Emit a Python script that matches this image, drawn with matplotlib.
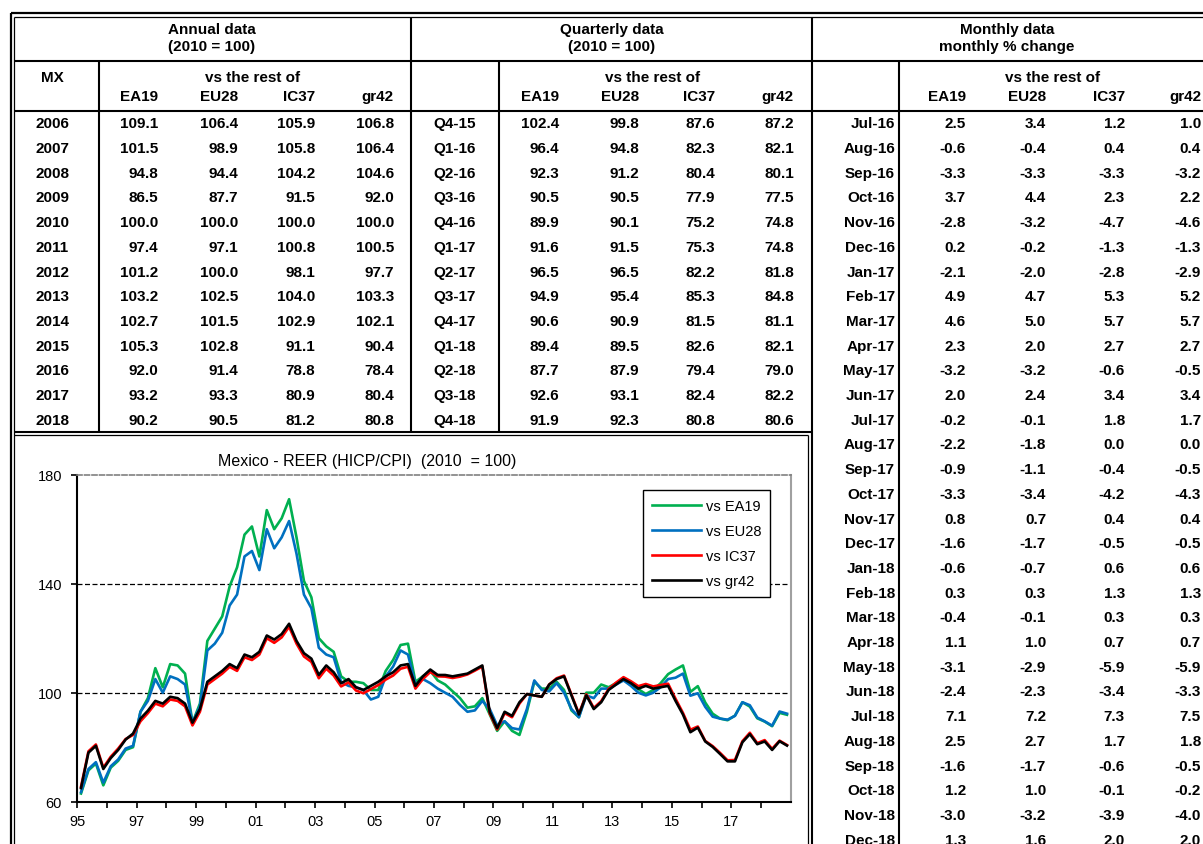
import matplotlib
matplotlib.use("Agg")
import matplotlib.pyplot as plt
import numpy as np

plt.rcParams["font.family"] = ["Liberation Sans", "DejaVu Sans"]

# ---------------- table data ----------------
annual_years = ["2006", "2007", "2008", "2009", "2010", "2011", "2012",
                "2013", "2014", "2015", "2016", "2017", "2018"]
a_ea19 = [109.1, 101.5, 94.8, 86.5, 100.0, 97.4, 101.2, 103.2, 102.7, 105.3, 92.0, 93.2, 90.2]
a_eu28 = [106.4, 98.9, 94.4, 87.7, 100.0, 97.1, 100.0, 102.5, 101.5, 102.8, 91.4, 93.3, 90.5]
a_ic37 = [105.9, 105.8, 104.2, 91.5, 100.0, 100.8, 98.1, 104.0, 102.9, 91.1, 78.8, 80.9, 81.2]
a_gr42 = [106.8, 106.4, 104.6, 92.0, 100.0, 100.5, 97.7, 103.3, 102.1, 90.4, 78.4, 80.4, 80.8]

quarters = ["Q4-15", "Q1-16", "Q2-16", "Q3-16", "Q4-16", "Q1-17", "Q2-17",
            "Q3-17", "Q4-17", "Q1-18", "Q2-18", "Q3-18", "Q4-18"]
q_ea19 = [102.4, 96.4, 92.3, 90.5, 89.9, 91.6, 96.5, 94.9, 90.6, 89.4, 87.7, 92.6, 91.9]
q_eu28 = [99.8, 94.8, 91.2, 90.5, 90.1, 91.5, 96.5, 95.4, 90.9, 89.5, 87.9, 93.1, 92.3]
q_ic37 = [87.6, 82.3, 80.4, 77.9, 75.2, 75.3, 82.2, 85.3, 81.5, 82.6, 79.4, 82.4, 80.8]
q_gr42 = [87.2, 82.1, 80.1, 77.5, 74.8, 74.8, 81.8, 84.8, 81.1, 82.1, 79.0, 82.2, 80.6]

months = ["Jul-16", "Aug-16", "Sep-16", "Oct-16", "Nov-16", "Dec-16",
          "Jan-17", "Feb-17", "Mar-17", "Apr-17", "May-17", "Jun-17",
          "Jul-17", "Aug-17", "Sep-17", "Oct-17", "Nov-17", "Dec-17",
          "Jan-18", "Feb-18", "Mar-18", "Apr-18", "May-18", "Jun-18",
          "Jul-18", "Aug-18", "Sep-18", "Oct-18", "Nov-18", "Dec-18"]
m_ea19 = [2.5, -0.6, -3.3, 3.7, -2.8, 0.2, -2.1, 4.9, 4.6, 2.3, -3.2, 2.0, -0.2, -2.2, -0.9,
          -3.3, 0.8, -1.6, -0.6, 0.3, -0.4, 1.1, -3.1, -2.4, 7.1, 2.5, -1.6, 1.2, -3.0, 1.3]
m_eu28 = [3.4, -0.4, -3.3, 4.4, -3.2, -0.2, -2.0, 4.7, 5.0, 2.0, -3.2, 2.4, -0.1, -1.8, -1.1,
          -3.4, 0.7, -1.7, -0.7, 0.3, -0.1, 1.0, -2.9, -2.3, 7.2, 2.7, -1.7, 1.0, -3.2, 1.6]
m_ic37 = [1.2, 0.4, -3.3, 2.3, -4.7, -1.3, -2.8, 5.3, 5.7, 2.7, -0.6, 3.4, 1.8, 0.0, -0.4,
          -4.2, 0.4, -0.5, 0.6, 1.3, 0.3, 0.7, -5.9, -3.4, 7.3, 1.7, -0.6, -0.1, -3.9, 2.0]
m_gr42 = [1.0, 0.4, -3.2, 2.2, -4.6, -1.3, -2.9, 5.2, 5.7, 2.7, -0.5, 3.4, 1.7, 0.0, -0.5,
          -4.3, 0.4, -0.5, 0.6, 1.3, 0.3, 0.7, -5.9, -3.3, 7.5, 1.8, -0.5, -0.2, -4.0, 2.0]

# ---------------- chart data ----------------
# quarterly REER, 1995Q1 - 2015Q3; Q4-15 onward comes from the table
early_ea19 = [63, 71.5, 74, 66, 72.5, 75, 79, 80, 93, 98, 109, 102, 110.5, 110, 107, 89,
              96, 119, 123.5, 128, 139, 146, 158, 161, 150, 167, 160, 164, 171, 157, 141, 135,
              120, 117, 115, 106, 104, 104, 103.5, 101, 101, 108, 112, 117.5, 118, 104, 106, 108,
              104.5, 103, 100.5, 98, 94.5, 95, 98, 92, 86, 89.5, 86, 84.5, 93, 104, 101.5, 101.5,
              104, 101, 93.5, 91, 100, 100, 103, 102, 103.5, 105, 103, 101.3, 99.5, 101, 103.5, 106.8,
              108.5, 110, 100.3]
early_eu28 = [63.5, 72, 74.5, 67, 73, 75.5, 79.5, 80.5, 93, 97, 105, 100, 106, 105, 103, 89,
              95, 115.5, 118, 122, 132, 136, 150, 152, 145, 160, 153, 157, 163, 151, 136, 131,
              116.5, 114, 113, 104, 102.5, 102, 101, 97.5, 98.5, 106, 109.6, 115.5, 114, 103, 105, 103.5,
              101.5, 100, 98.5, 95.5, 93, 93.5, 97, 94, 88, 89.5, 87, 86.5, 94, 104.5, 101, 100.5,
              103.5, 100, 94, 91, 99, 98, 101.5, 101.5, 103, 104.5, 102.5, 100, 99, 100, 102, 105,
              105.5, 107, 98.9]
early_ic37 = [65.5, 78.5, 81, 72.5, 76.5, 79.5, 83, 84.5, 89.5, 92.5, 96, 95, 97.5, 97, 95, 88,
              93, 103, 105, 107, 109.5, 108, 113, 112, 114, 120, 118.3, 120.3, 124.2, 118, 113.3, 111.3,
              105.3, 108.8, 106.3, 102.3, 103.8, 100.8, 99.8, 101.3, 102.8, 104.8, 106.3, 108.8,
              109.5, 101.5, 105, 107.6, 106, 105.9, 105.4, 105.9, 106.7, 108.1, 109.6, 92.4,
              86.5, 92.5, 91, 96, 99.5, 99, 98.5, 103, 105.3, 106.3, 99.3, 92.3, 99.4, 94.4, 96.9, 101.4,
              103.7, 105.7, 104.2, 102.4, 103.2, 102.3, 102.8, 103.3, 97.8, 92.6, 86.4]
early_gr42 = [65, 78, 80.5, 72, 76, 79, 82.8, 85, 90.5, 93.4, 97, 96, 98.5, 98, 96, 89,
              94, 104, 106, 108, 110.5, 109, 114, 113, 115, 121, 119.5, 121.5, 125.3, 119, 114.5, 112.5,
              106.5, 110, 107.5, 103.5, 105, 102, 101, 102.5, 104, 106, 107.5, 110,
              110.5, 102.5, 106, 108.5, 106.5, 106.5, 106, 106.5, 107, 108.5, 110, 93,
              87, 93, 91.5, 96.5, 99.5, 99, 98.5, 103, 105, 106, 99, 92, 99, 94, 96.5, 101,
              103, 105, 103.5, 101.5, 102.5, 101.5, 102, 102.5, 97, 92, 85.5]

series = [
    ("vs EA19", early_ea19 + q_ea19, "#00B050"),
    ("vs EU28", early_eu28 + q_eu28, "#0070C0"),
    ("vs IC37", early_ic37 + q_ic37, "#FF0000"),
    ("vs gr42", early_gr42 + q_gr42, "#000000"),
]

W, H = 1203, 845
fig = plt.figure(figsize=(W / 100, H / 100), dpi=100)

# ---------------- table (pixel coordinates) ----------------
tab = fig.add_axes([0, 0, 1, 1])
tab.set_xlim(0, W)
tab.set_ylim(H, 0)
tab.axis("off")

row_h = 24.7
hdr_mid = 62
hdr_bot = 112
chart_top = 432.5
lw = 1.5

def hl(y, x0, x1, w=lw):
    tab.plot([x0, x1], [y, y], color="black", lw=w, solid_capstyle="butt")

def vl(x, y0, y1, w=lw):
    tab.plot([x, x], [y0, y1], color="black", lw=w, solid_capstyle="butt")

# outer double border
hl(14, 10.7, W, 1.6)
hl(17.5, 13.5, W, 0.9)
vl(10.7, 14, H, 1.6)
vl(13.5, 17.5, H, 0.9)
hl(hdr_mid, 13.5, W)
hl(hdr_bot, 13.5, W)
vl(411, 17.5, chart_top)
vl(812, 17.5, H)
vl(98.5, hdr_mid, chart_top)
vl(499, hdr_mid, chart_top)
vl(899, hdr_mid, H)
# chart frame
hl(chart_top, 13.5, 812)
hl(chart_top + 3.5, 13.5, 808, 0.9)
vl(808, chart_top + 3.5, H, 0.9)

txt = dict(fontsize=11, fontweight="bold", va="center")

sections = [
    (212, "Annual data", "(2010 = 100)", 253),
    (612, "Quarterly data", "(2010 = 100)", 653),
    (1007, "Monthly data", "monthly % change", 1053),
]
for xc, l1, l2, xv in sections:
    tab.text(xc, 30, l1, ha="center", **txt)
    tab.text(xc, 47, l2, ha="center", **txt)
    tab.text(xv, 78, "vs the rest of", ha="center", **txt)
tab.text(52, 78, "MX", ha="center", **txt)

heads = ["EA19", "EU28", "IC37", "gr42"]
col_right = {
    "annual": [158, 238, 315, 394],
    "quarter": [559, 639, 715, 794],
    "month": [966, 1046, 1125, 1201],
}
for key in col_right:
    for xr, h in zip(col_right[key], heads):
        tab.text(xr, 97, h, ha="right", **txt)

def row_y(i):
    return hdr_bot + (i + 0.5) * row_h

for i, lab in enumerate(annual_years):
    tab.text(52, row_y(i), lab, ha="center", **txt)
    for xr, v in zip(col_right["annual"], (a_ea19[i], a_eu28[i], a_ic37[i], a_gr42[i])):
        tab.text(xr, row_y(i), f"{v:.1f}", ha="right", **txt)

for i, lab in enumerate(quarters):
    tab.text(455, row_y(i), lab, ha="center", **txt)
    for xr, v in zip(col_right["quarter"], (q_ea19[i], q_eu28[i], q_ic37[i], q_gr42[i])):
        tab.text(xr, row_y(i), f"{v:.1f}", ha="right", **txt)

for i, lab in enumerate(months):
    tab.text(895, row_y(i), lab, ha="right", **txt)
    for xr, v in zip(col_right["month"], (m_ea19[i], m_eu28[i], m_ic37[i], m_gr42[i])):
        tab.text(xr, row_y(i), f"{v:.1f}", ha="right", **txt)

# ---------------- chart ----------------
x0, x1, y_top, y_bot = 77.3, 790.7, 475.7, 802.7
ax = fig.add_axes([x0 / W, 1 - y_bot / H, (x1 - x0) / W, (y_bot - y_top) / H])
ax.set_facecolor("white")

t = 1995 + (np.arange(len(early_ea19) + len(q_ea19)) + 0.5) / 4
for label, vals, color in series:
    ax.plot(t, vals, color=color, lw=1.9, label=label)

ax.set_xlim(1995, 2019)
ax.set_ylim(60, 180)
ax.set_xticks(range(1995, 2019, 2))
ax.set_xticklabels([f"{y % 100:02d}" for y in range(1995, 2019, 2)])
ax.set_xticks(range(1996, 2020, 2), minor=True)
ax.set_yticks([60, 100, 140, 180])
ax.tick_params(axis="both", which="both", labelsize=10.5, length=4, width=1.2, direction="out")
ax.tick_params(axis="x", pad=5)
ax.tick_params(axis="y", pad=7)

for yv in (100, 140):
    ax.axhline(yv, color="black", lw=0.9, ls=(0, (4, 2)), zorder=0.5)

ax.spines["top"].set_linestyle((0, (3, 1.5)))
ax.spines["top"].set_color("#808080")
ax.spines["top"].set_linewidth(1.2)
ax.spines["right"].set_color("#a0a0a0")
ax.spines["right"].set_linewidth(1.5)
ax.spines["left"].set_linewidth(1.5)
ax.spines["bottom"].set_linewidth(1.5)

leg = ax.legend(loc="upper left", bbox_to_anchor=(0.793, 0.952), borderaxespad=0,
                fontsize=10.5, handlelength=3.4, handletextpad=0.3, labelspacing=0.75,
                borderpad=0.6, fancybox=False, framealpha=1, edgecolor="black")
leg.get_frame().set_linewidth(1.0)

fig.text(218 / W, 1 - 462 / H, "Mexico - REER (HICP/CPI)  (2010  = 100)",
         ha="left", va="center", fontsize=11.5)

fig.savefig("out.png", dpi=100)
